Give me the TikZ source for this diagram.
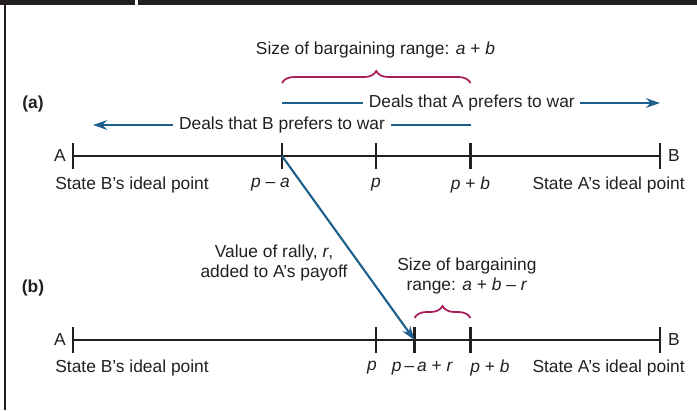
\documentclass[tikz,border=0pt]{standalone}
\usepackage{fontspec}
\setmainfont{Liberation Sans}
\usetikzlibrary{arrows.meta,decorations.pathreplacing}

\definecolor{inkblack}{HTML}{231F20}
\definecolor{dealblue}{RGB}{28,94,140}
\definecolor{rangered}{RGB}{168,30,90}

\tikzset{
  axisline/.style={line width=1.3pt, inkblack},
  tickmark/.style={line width=1.3pt, inkblack},
  dealline/.style={line width=1.2pt, dealblue},
  dealarrow/.style={dealline, -{Stealth[length=0.28cm,width=0.19cm]}},
  rangebrace/.style={line width=1pt, rangered, decorate,
    decoration={brace, amplitude=0.24cm}},
  lbl/.style={inner sep=0pt, text=inkblack, font=\fontsize{9.9}{11.8}\selectfont},
  dealtxt/.style={lbl, inner xsep=3pt},
}

\begin{document}
\begin{tikzpicture}[x=0.02cm, y=-0.02cm]
    \useasboundingbox (0,0) rectangle (697,410);

    % Frame: top bar with a small gap, left rule
    \fill[inkblack] (0,0) rectangle (135,5);
    \fill[inkblack] (137.5,0) rectangle (697,5);
    \fill[inkblack] (4,5) rectangle (6,410);

    % Panel (a): points on the line
    \coordinate (aA) at (73,156);
    \coordinate (aPa) at (282,156);
    \coordinate (aP) at (376,156);
    \coordinate (aPb) at (470.5,156);
    \coordinate (aB) at (660,156);

    % Panel (b): points on the line
    \coordinate (bA) at (73,340);
    \coordinate (bP) at (376,340);
    \coordinate (bPar) at (414.5,340);
    \coordinate (bPb) at (470.5,340);
    \coordinate (bB) at (660,340);

    % Lines and ticks
    \draw[axisline] (aA) -- (aB);
    \draw[axisline] (bA) -- (bB);
    \foreach \t in {aA,aPa,aP,aPb,aB,bA,bP,bPar,bPb,bB}
        \draw[tickmark] ([yshift=0.26cm]\t) -- ([yshift=-0.26cm]\t);

    % Panel labels
    \node[lbl, font=\fontsize{9.9}{11.8}\selectfont\bfseries] (labA) at (33,104) {(a)};
    \node[lbl, font=\fontsize{9.9}{11.8}\selectfont\bfseries] (labB) at (33,288) {(b)};

    % End letters
    \node[lbl] (aEndA) at (60,156) {A};
    \node[lbl] (aEndB) at (674,156) {B};
    \node[lbl] (bEndA) at (60,340) {A};
    \node[lbl] (bEndB) at (674,340) {B};

    % Axis labels (a)
    \node[lbl, anchor=west] (aIdealB) at (55,185) {State B’s ideal point};
    \node[lbl] (aTxtPa) at (270.5,185) {\textit{p} – \textit{a}};
    \node[lbl] (aTxtP) at (376,185) {\textit{p}};
    \node[lbl] (aTxtPb) at (470.5,185) {\textit{p} + \textit{b}};
    \node[lbl, anchor=east] (aIdealA) at (685,185) {State A’s ideal point};

    % Axis labels (b)
    \node[lbl, anchor=west] (bIdealB) at (55,368) {State B’s ideal point};
    \node[lbl] (bTxtP) at (372,368) {\textit{p}};
    \node[lbl] (bTxtPar) at (422.5,368) {\textit{p}\,–\,\textit{a} + \textit{r}};
    \node[lbl] (bTxtPb) at (490,368) {\textit{p} + \textit{b}};
    \node[lbl, anchor=east] (bIdealA) at (685,368) {State A’s ideal point};

    % Bargaining range (a)
    \node[lbl] (rangeA) at (375.5,50) {Size of bargaining range: \textit{a} + \textit{b}};
    \draw[rangebrace] (282,83) -- (470.5,83);

    % Deals preferred to war
    \coordinate (dealAstart) at (282,103);
    \coordinate (dealAend) at (660,103);
    \node[dealtxt] (dealA) at (471.8,103) {Deals that A prefers to war};
    \draw[dealline] (dealAstart) -- (dealA.west);
    \draw[dealarrow] (dealA.east) -- (dealAend);

    \coordinate (dealBstart) at (471,125);
    \coordinate (dealBend) at (93,125);
    \node[dealtxt] (dealB) at (282,125) {Deals that B prefers to war};
    \draw[dealline] (dealBstart) -- (dealB.east);
    \draw[dealarrow] (dealB.west) -- (dealBend);

    % Rally shifts A's point
    \draw[dealarrow] (aPa) -- (bPar);
    \node[lbl, align=center] (rally) at (274,263) {Value of rally, \textit{r},\\added to A’s payoff};

    % Bargaining range (b)
    \node[lbl, align=center] (rangeB) at (467,276) {Size of bargaining\\range: \textit{a} + \textit{b} – \textit{r}};
    \draw[rangebrace] (414.5,318) -- (470.5,318);
\end{tikzpicture}
\end{document}
